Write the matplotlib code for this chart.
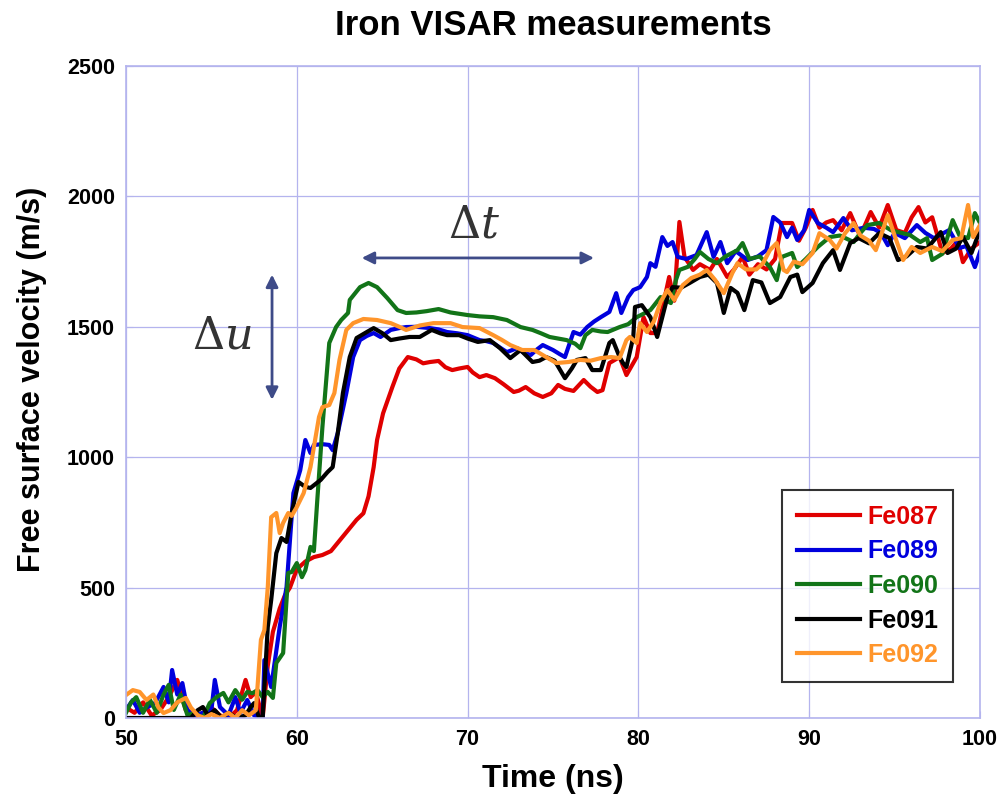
import numpy as np
import matplotlib
matplotlib.use("Agg")
import matplotlib.pyplot as plt

plt.rcParams['font.family'] = ['Liberation Sans', 'DejaVu Sans']
plt.rcParams['mathtext.fontset'] = 'dejavuserif'

# VISAR free surface velocity traces, (time in ns, velocity in m/s)
fe087 = [(50.0, 40), (50.5, 20), (51.0, 60), (51.5, 10), (52.0, 30), (52.5, 80), (53.0, 146), (53.5, 30),
         (54.0, 0), (54.5, 20), (55.0, 40), (55.5, 10), (56.0, 0), (56.5, 30), (57.0, 146), (57.3, 80),
         (57.6, 100), (58.0, 0), (58.3, 200), (58.6, 330), (59.0, 420), (59.3, 470), (59.6, 500), (60.0, 570),
         (60.5, 600), (61.0, 617), (61.5, 625), (62.0, 640), (62.5, 680), (63.0, 720), (63.5, 760), (63.9, 785),
         (64.2, 850), (64.5, 962), (64.7, 1066), (65.05, 1168), (65.6, 1270), (66.0, 1340), (66.5, 1384),
         (67.0, 1375), (67.4, 1360), (67.8, 1365), (68.3, 1369), (68.7, 1345), (69.1, 1334), (69.5, 1340),
         (70.0, 1346), (70.3, 1325), (70.7, 1307), (71.1, 1315), (71.6, 1303), (72.1, 1280), (72.7, 1250),
         (73.0, 1255), (73.4, 1269), (73.9, 1245), (74.4, 1231), (74.9, 1245), (75.3, 1277), (75.7, 1262),
         (76.2, 1254), (76.8, 1296), (77.2, 1270), (77.6, 1250), (77.9, 1257), (78.3, 1361), (78.9, 1384),
         (79.3, 1315), (79.9, 1384), (80.3, 1537), (80.7, 1476), (81.1, 1476), (81.5, 1600), (81.8, 1691),
         (82.1, 1600), (82.4, 1902), (82.7, 1768), (83.2, 1718), (83.6, 1740), (84.2, 1718), (84.6, 1760),
         (85.2, 1691), (85.6, 1720), (86.1, 1768), (86.5, 1700), (87.0, 1740), (87.5, 1720), (88.0, 1760),
         (88.4, 1898), (89.0, 1898), (89.4, 1830), (89.8, 1880), (90.2, 1948), (90.6, 1880), (91.0, 1900),
         (91.4, 1909), (91.9, 1870), (92.4, 1936), (92.9, 1860), (93.2, 1880), (93.6, 1940), (94.1, 1880),
         (94.6, 1967), (95.1, 1871), (95.6, 1860), (96.0, 1920), (96.4, 1959), (96.8, 1900), (97.2, 1920),
         (97.8, 1783), (98.3, 1800), (98.7, 1830), (99.0, 1748), (99.5, 1800), (100.0, 1825)]

fe089 = [(50.0, 31), (50.4, 69), (50.8, 20), (51.2, 40), (51.7, 57), (52.2, 119), (52.5, 60), (52.7, 184),
         (53.0, 90), (53.3, 134), (53.6, 31), (54.0, 10), (54.5, 20), (55.0, 30), (55.2, 146), (55.5, 42),
         (56.0, 10), (56.4, 80), (56.7, 20), (57.1, 69), (57.5, 10), (58.0, 0), (58.1, 222), (58.5, 119),
         (59.0, 350), (59.4, 502), (59.8, 862), (60.2, 950), (60.5, 1066), (60.8, 1016), (61.0, 1047),
         (61.5, 1050), (61.9, 1047), (62.1, 1027), (62.4, 1093), (62.9, 1246), (63.3, 1384), (63.7, 1449),
         (64.1, 1465), (64.5, 1476), (64.9, 1461), (65.5, 1488), (66.0, 1495), (66.4, 1499), (67.0, 1500),
         (67.8, 1495), (68.3, 1490), (68.8, 1480), (69.4, 1475), (70.0, 1468), (70.7, 1449), (71.1, 1445),
         (71.5, 1438), (71.9, 1420), (72.3, 1403), (72.9, 1418), (73.3, 1400), (73.7, 1392), (74.0, 1410),
         (74.4, 1430), (75.0, 1411), (75.4, 1395), (75.7, 1384), (76.2, 1480), (76.6, 1470), (77.0, 1499),
         (77.4, 1520), (77.8, 1537), (78.3, 1557), (78.7, 1629), (79.0, 1553), (79.4, 1614), (79.7, 1641),
         (80.1, 1652), (80.5, 1691), (80.7, 1744), (81.0, 1730), (81.4, 1844), (81.7, 1810), (82.0, 1825),
         (82.3, 1768), (82.8, 1760), (83.4, 1775), (84.0, 1863), (84.4, 1768), (84.8, 1825), (85.2, 1744),
         (85.7, 1790), (86.4, 1756), (87.0, 1770), (87.5, 1794), (87.9, 1921), (88.3, 1900), (88.7, 1844),
         (89.0, 1880), (89.3, 1833), (89.7, 1870), (90.0, 1948), (90.5, 1898), (91.0, 1880), (91.4, 1863),
         (92.0, 1917), (92.5, 1870), (93.2, 1880), (93.8, 1875), (94.2, 1860), (94.6, 1813), (95.0, 1860),
         (95.6, 1840), (96.3, 1890), (96.8, 1860), (97.3, 1840), (98.2, 1871), (98.8, 1802), (99.2, 1810),
         (99.7, 1729), (100.0, 1787)]

fe090 = [(50.0, 20), (50.3, 60), (50.6, 80), (51.0, 20), (51.4, 70), (51.8, 20), (52.2, 90), (52.5, 127),
         (52.8, 31), (53.2, 90), (53.6, 10), (54.0, 20), (54.5, 0), (54.9, 57), (55.3, 80), (55.7, 96),
         (56.0, 60), (56.4, 107), (56.8, 70), (57.1, 100), (57.4, 95), (57.7, 107), (58.0, 80), (58.3, 100),
         (58.6, 77), (58.8, 211), (59.2, 249), (59.5, 556), (59.7, 560), (60.0, 594), (60.3, 540), (60.5, 567),
         (60.8, 656), (61.0, 640), (61.2, 836), (61.5, 1116), (61.9, 1438), (62.3, 1499), (62.6, 1526),
         (63.0, 1553), (63.1, 1603), (63.7, 1652), (64.2, 1668), (64.7, 1652), (65.3, 1610), (65.9, 1564),
         (66.4, 1553), (67.0, 1555), (67.6, 1560), (68.3, 1568), (69.0, 1555), (70.0, 1545), (70.7, 1540),
         (71.5, 1537), (72.3, 1526), (73.1, 1499), (73.8, 1488), (74.3, 1475), (74.8, 1461), (75.8, 1449),
         (76.3, 1435), (76.6, 1418), (76.9, 1468), (77.3, 1488), (77.8, 1482), (78.2, 1480), (78.9, 1499),
         (79.4, 1510), (79.9, 1537), (80.3, 1550), (80.7, 1564), (81.3, 1614), (81.9, 1591), (82.2, 1680),
         (82.4, 1718), (82.9, 1730), (83.3, 1760), (83.6, 1787), (84.1, 1760), (84.6, 1744), (85.1, 1770),
         (85.8, 1794), (86.1, 1821), (86.5, 1760), (87.1, 1770), (87.7, 1729), (88.1, 1679), (88.4, 1768),
         (89.0, 1783), (89.3, 1729), (89.8, 1760), (90.5, 1806), (91.2, 1844), (91.8, 1850), (92.6, 1825),
         (93.0, 1860), (93.4, 1890), (94.1, 1898), (94.8, 1870), (95.4, 1860), (95.9, 1852), (96.5, 1825),
         (96.9, 1840), (97.2, 1756), (97.8, 1780), (98.4, 1909), (98.8, 1850), (99.3, 1840), (99.7, 1936),
         (100.0, 1898)]

fe091 = [(50.0, 0), (51.0, 0), (52.0, 0), (53.0, 0), (53.8, 0), (54.2, 30), (54.5, 42), (54.8, 10),
         (55.2, 30), (55.6, 0), (56.0, 20), (56.5, 0), (57.0, 10), (57.3, 42), (57.5, 57), (57.8, 0),
         (58.0, 0), (58.3, 349), (58.5, 452), (58.8, 632), (59.1, 690), (59.4, 675), (59.7, 786), (60.1, 905),
         (60.5, 886), (60.8, 882), (61.4, 913), (61.8, 943), (62.1, 962), (62.4, 1093), (62.7, 1246),
         (63.1, 1384), (63.5, 1457), (64.1, 1480), (64.5, 1495), (65.0, 1476), (65.5, 1449), (66.0, 1455),
         (66.6, 1461), (67.2, 1461), (67.9, 1488), (68.4, 1475), (68.8, 1468), (69.5, 1468), (70.0, 1455),
         (70.6, 1442), (71.3, 1449), (71.9, 1418), (72.5, 1380), (73.1, 1411), (73.8, 1365), (74.2, 1370),
         (74.6, 1384), (75.1, 1370), (75.7, 1303), (76.1, 1340), (76.4, 1373), (76.9, 1380), (77.3, 1334),
         (77.8, 1334), (78.3, 1438), (78.5, 1449), (78.9, 1384), (79.1, 1361), (79.3, 1346), (79.7, 1461),
         (79.8, 1576), (80.2, 1583), (80.7, 1537), (81.1, 1461), (81.7, 1614), (82.0, 1652), (82.5, 1650),
         (83.0, 1668), (83.6, 1691), (84.1, 1700), (84.6, 1668), (85.0, 1553), (85.4, 1649), (85.8, 1630),
         (86.2, 1564), (86.7, 1679), (87.2, 1670), (87.7, 1591), (88.3, 1614), (88.9, 1691), (89.3, 1700),
         (89.6, 1633), (90.2, 1668), (90.8, 1744), (91.4, 1794), (91.8, 1718), (92.4, 1821), (92.9, 1840),
         (93.5, 1820), (94.1, 1859), (94.7, 1840), (95.2, 1756), (95.7, 1770), (96.3, 1806), (96.9, 1800),
         (97.7, 1863), (98.1, 1783), (98.6, 1800), (99.0, 1844), (99.5, 1783), (100.0, 1871)]

fe092 = [(50.0, 88), (50.4, 107), (50.8, 100), (51.2, 69), (51.6, 90), (51.9, 40), (52.2, 19), (52.6, 30),
         (53.0, 60), (53.5, 77), (53.8, 40), (54.2, 10), (54.6, 0), (55.0, 15), (55.5, 0), (56.0, 20),
         (56.4, 0), (56.8, 30), (57.2, 10), (57.6, 30), (57.9, 300), (58.1, 337), (58.3, 500), (58.5, 770),
         (58.8, 786), (59.0, 709), (59.2, 748), (59.5, 786), (59.7, 775), (60.0, 809), (60.4, 862), (60.8, 962),
         (61.1, 1077), (61.3, 1154), (61.5, 1192), (61.9, 1200), (62.2, 1246), (62.5, 1373), (62.9, 1488),
         (63.3, 1514), (63.9, 1530), (64.7, 1526), (65.5, 1514), (66.0, 1500), (66.4, 1488), (67.2, 1505),
         (68.0, 1514), (69.0, 1514), (69.7, 1499), (70.7, 1495), (71.5, 1468), (72.0, 1450), (72.5, 1430),
         (73.2, 1411), (73.9, 1411), (74.6, 1384), (75.2, 1361), (75.9, 1365), (76.6, 1373), (77.2, 1370),
         (77.8, 1380), (78.4, 1384), (78.9, 1380), (79.3, 1449), (79.5, 1461), (79.9, 1438), (80.1, 1514),
         (80.5, 1480), (80.9, 1520), (81.3, 1595), (81.7, 1641), (82.1, 1603), (82.6, 1660), (83.1, 1687),
         (83.6, 1700), (84.0, 1718), (84.5, 1679), (85.0, 1629), (85.5, 1706), (85.8, 1744), (86.3, 1720),
         (86.9, 1720), (87.3, 1744), (87.7, 1794), (88.1, 1821), (88.5, 1718), (88.7, 1710), (89.1, 1750),
         (89.6, 1740), (90.2, 1783), (90.6, 1859), (91.2, 1833), (91.6, 1800), (92.1, 1859), (92.6, 1898),
         (93.0, 1850), (93.5, 1830), (93.9, 1794), (94.2, 1850), (94.6, 1928), (95.0, 1850), (95.5, 1756),
         (96.0, 1806), (96.5, 1783), (97.2, 1806), (97.8, 1790), (98.4, 1833), (98.9, 1840), (99.3, 1967),
         (99.6, 1844), (100.0, 1890)]

shots = ['Fe087', 'Fe089', 'Fe090', 'Fe091', 'Fe092']
traces = [fe087, fe089, fe090, fe091, fe092]
colors = ['#e00000', '#0000dd', '#127418', '#000000', '#ff952b']

x_ticks = [50, 60, 70, 80, 90, 100]
y_ticks = [0, 500, 1000, 1500, 2000, 2500]

grid_col = '#b4b4ee'
arrow_col = '#3e4b88'

fig = plt.figure(figsize=(10.02, 8.01), dpi=100)
ax = fig.add_axes([126 / 1002, 1 - 718 / 801, 854 / 1002, 652 / 801])

for name, tr, c in zip(shots, traces, colors):
    t, v = np.array(tr, dtype=float).T
    ax.plot(t, v, color=c, lw=3, label=name)

ax.set_xlim(50, 100)
ax.set_ylim(0, 2500)
ax.set_xticks(x_ticks)
ax.set_yticks(y_ticks)
ax.grid(True, color=grid_col, lw=0.9)
ax.set_axisbelow(True)
for sp in ax.spines.values():
    sp.set_color(grid_col)
    sp.set_linewidth(1.2)
ax.tick_params(direction='in', length=5, color=grid_col, labelsize=15.5, pad=8)
for lab in ax.get_xticklabels() + ax.get_yticklabels():
    lab.set_fontweight('bold')

ax.set_xlabel('Time (ns)', fontsize=23, fontweight='bold')
ax.xaxis.set_label_coords(0.5, -0.07)
ax.set_ylabel('Free surface velocity (m/s)', fontsize=22, fontweight='bold')
ax.yaxis.set_label_coords(-0.093, 0.52)

fig.text(0.552, 0.968, 'Iron VISAR measurements', ha='center', va='center',
         fontsize=25, fontweight='bold')

# Delta u and Delta t annotations
ax.annotate('', xy=(58.55, 1700), xytext=(58.55, 1220),
            arrowprops=dict(arrowstyle='<|-|>', color=arrow_col, lw=2, mutation_scale=18, shrinkA=0, shrinkB=0))
ax.annotate('', xy=(63.8, 1764), xytext=(77.4, 1764),
            arrowprops=dict(arrowstyle='<|-|>', color=arrow_col, lw=2, mutation_scale=18, shrinkA=0, shrinkB=0))
ax.text(55.6, 1460, r'$\Delta u$', fontsize=32, color='#333333', ha='center', va='center')
ax.text(70.4, 1885, r'$\Delta t$', fontsize=32, color='#333333', ha='center', va='center')

leg = ax.legend(loc='lower right', bbox_to_anchor=((953 - 126) / 854, (718 - 682) / 652),
                fontsize=18, frameon=True, fancybox=False, handlelength=2.5, handletextpad=0.3,
                borderpad=0.6, labelspacing=0.42, borderaxespad=0)
leg.get_frame().set_edgecolor('black')
leg.get_frame().set_linewidth(1.5)
for line in leg.get_lines():
    line.set_linewidth(3)
for txt, c in zip(leg.get_texts(), colors):
    txt.set_color(c)
    txt.set_fontweight('bold')

fig.savefig('out.png', dpi=100, facecolor='white')
